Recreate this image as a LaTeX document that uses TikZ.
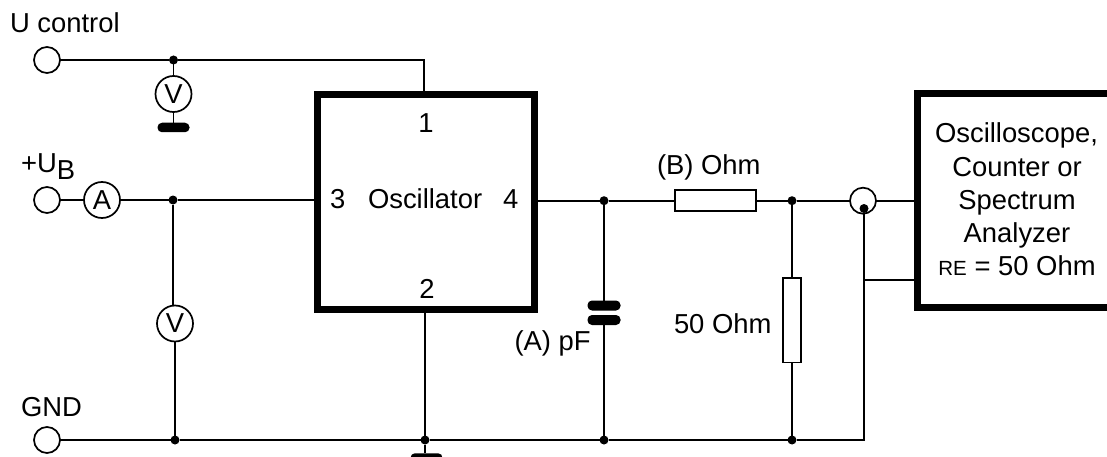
\documentclass[tikz,border=0pt]{standalone}
\usepackage{fontspec}
\setmainfont{Liberation Sans}
\begin{document}
\begin{tikzpicture}[x=1pt,y=-1pt,
  wire/.style={line width=1.7pt,line cap=butt},
  term/.style={circle,draw,line width=1.7pt,minimum size=26pt,inner sep=0pt,outer sep=0pt,fill=white},
  meter/.style={circle,draw,line width=1.7pt,minimum size=36pt,inner sep=0pt,outer sep=0pt,fill=white,font=\fontsize{27.4}{27.4}\selectfont},
  junction/.style={circle,fill=black,minimum size=9pt,inner sep=0pt,outer sep=0pt},
  gndbar/.style={rounded corners=4.5pt,fill=black,minimum width=32pt,minimum height=9.5pt,inner sep=0pt,outer sep=0pt},
  resistor/.style={rectangle,draw,line width=1.7pt,inner sep=0pt,outer sep=0pt,fill=white},
  lbl/.style={anchor=base west,inner sep=0pt,outer sep=0pt,font=\fontsize{27.4}{27.4}\selectfont},
  clbl/.style={anchor=base,inner sep=0pt,outer sep=0pt,font=\fontsize{27.4}{27.4}\selectfont},
  heavy/.style={line width=7pt,line join=miter}
]
\useasboundingbox (0,0) rectangle (1107,457);
\fill[white] (0,0) rectangle (1107,457);

% terminals
\node[term] (tU) at (47,60) {};
\node[term] (tB) at (47,200) {};
\node[term] (tG) at (47,440) {};

% oscillator box
\node[draw,heavy,rectangle,minimum width=216.5pt,minimum height=215pt,inner sep=0pt,outer sep=3.5pt] (osc) at (425.75,202) {};
\coordinate (p1) at (424,60);
\coordinate (p1b) at (424,92);
\coordinate (p2b) at (425,309);

% meters
\node[meter] (vU) at (173.5,94) {V};
\node[meter] (aB) at (102,200) {A};
\node[meter] (vB) at (175,323.5) {V};

% junctions
\node[junction] (jU) at (173.5,60) {};
\node[junction] (jB) at (173,200) {};
\node[junction] (jG1) at (175,440) {};
\node[junction] (jG2) at (425,440) {};
\node[junction] (jG3) at (604,440) {};
\node[junction] (jG4) at (792,440) {};
\node[junction] (jC) at (604,200.7) {};
\node[junction] (jR) at (792,200.7) {};

% ground bars
\node[gndbar] (g1) at (173.5,127.5) {};
\node[gndbar] (g2) at (426.5,458) {};

% capacitor
\node[gndbar,minimum width=33pt,minimum height=10pt] (c1) at (604,305.5) {};
\node[gndbar,minimum width=33pt,minimum height=10pt] (c2) at (604,320) {};

% resistors
\node[resistor,minimum width=81pt,minimum height=21pt] (r1) at (715.5,200.7) {};
\node[resistor,minimum width=17.5pt,minimum height=84.5pt] (r2) at (792,320.3) {};

% coax connector
\node[circle,draw,line width=1.7pt,minimum size=26pt,inner sep=0pt,outer sep=0pt] (cx) at (863,200.7) {};
\node[junction] (cxd) at (864,208.5) {};

% instrument box
\coordinate (sTR) at (1107,93.5);
\coordinate (sTL) at (917.5,93.5);
\coordinate (sBL) at (917.5,307.5);
\coordinate (sBR) at (1107,307.5);
\draw[heavy] (sTR) -- (sTL) -- (sBL) -- (sBR);
\coordinate (sIn1) at (915,200.7);
\coordinate (sIn2) at (915,280);
\coordinate (jS) at (864,280);
\coordinate (gEnd) at (864,440);

% wires
\draw[wire] (tU) -- (jU) -- (p1) -- (p1b);
\draw[wire] (jU) -- (vU);
\draw[wire] (vU) -- (g1);
\draw[wire] (tB) -- (aB);
\draw[wire] (aB) -- (jB) -- (jB -| osc.west);
\draw[wire] (jB) -- (vB.north -| jB);
\draw[wire] (vB) -- (jG1);
\draw[wire] (tG) -- (jG1) -- (jG2) -- (jG3) -- (jG4) -- (gEnd) -- (cxd);
\draw[wire] (p2b) -- (jG2) -- (jG2 |- g2.north);
\draw[wire] (jC -| osc.east) -- (jC) -- (c1);
\draw[wire] (c2) -- (jG3);
\draw[wire] (jC) -- (r1);
\draw[wire] (r1) -- (jR) -- (cx);
\draw[wire] (jR) -- (r2);
\draw[wire] (r2.south) -- (jG4);
\draw[wire] (cx) -- (sIn1);
\draw[wire] (jS) -- (sIn2);

% labels
\node[lbl] (lU) at (10,33) {U control};
\node[lbl] (lB) at (21,173) {+U\raisebox{-6.5pt}{B}};
\node[lbl] (lG) at (21,416.7) {GND};
\node[clbl] (n1) at (426,133) {1};
\node[lbl] (n3) at (330,208) {3};
\node[lbl] (nO) at (368,208) {Oscillator};
\node[lbl] (n4) at (503,208) {4};
\node[clbl] (n2) at (427,298) {2};
\node[lbl] (lA) at (514.5,350.7) {(A) pF};
\node[lbl] (lO) at (657,175) {(B) Ohm};
\node[lbl] (l50) at (674,333) {50 Ohm};
\node[clbl] (s1) at (1016.5,143) {Oscilloscope,};
\node[clbl] (s2) at (1017,176.7) {Counter or};
\node[clbl] (s3) at (1017,209) {Spectrum};
\node[clbl] (s4) at (1017,242.7) {Analyzer};
\node[clbl] (s5) at (1017,275.3) {{\fontsize{20.5}{20.5}\selectfont RE} = 50 Ohm};
\end{tikzpicture}
\end{document}
